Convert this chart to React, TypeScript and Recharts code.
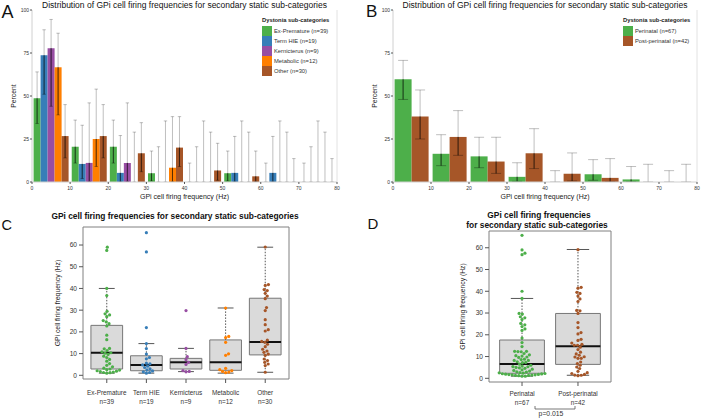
import React from 'react';
import {
  BarChart, Bar, XAxis, YAxis, Legend, ReferenceLine,
  ScatterChart, Scatter, ReferenceArea,
} from 'recharts';

const FONT = '"Liberation Sans", Arial, Helvetica, sans-serif';

// ---------- Panels A & B : histogram data ----------
const BIN_MIDS = [5, 15, 25, 35, 45, 55, 65, 75];
const FREQ_TICKS = [0, 10, 20, 30, 40, 50, 60, 70, 80];
const PCT_TICKS = [0, 25, 50, 75, 100];

const SUB_NAMES = ['Ex-Premature', 'Term HIE', 'Kernicterus', 'Metabolic', 'Other'];
const SUB_N = [39, 19, 9, 12, 30];
const SUB_COLORS = ['#4daf4a', '#377eb8', '#984ea3', '#ff7f00', '#a65628'];

const exPremPct = [48.7, 20.5, 20.5, 5.1, 0, 5.1, 0, 0];
const exPremLo = [34, 11, 11, 0.6, 0, 0.6, 0, 0];
const exPremHi = [64, 36, 36, 18, 11, 18, 11, 11];
const termHiePct = [73.7, 10.5, 5.3, 0, 0, 5.3, 5.3, 0];
const termHieLo = [51, 2, 0.1, 0, 0, 0.1, 0.1, 0];
const termHieHi = [88.5, 33, 27, 20.5, 20.5, 26.5, 26.5, 20.5];
const kernPct = [77.8, 11.1, 11.1, 0, 0, 0, 0, 0];
const kernLo = [44, 0.3, 0.3, 0, 0, 0, 0, 0];
const kernHi = [94.5, 46, 46, 35.5, 35.5, 35.5, 35.5, 35.5];
const metabPct = [66.7, 25, 0, 8.3, 0, 0, 0, 0];
const metabLo = [39, 9, 0, 0.2, 0, 0, 0, 0];
const metabHi = [86.5, 54, 29, 38, 29, 29, 29, 29];
const otherPct = [26.7, 26.7, 16.7, 20, 6.7, 3.3, 0, 0];
const otherLo = [14, 14, 6, 9, 1, 0.1, 0, 0];
const otherHi = [45, 45, 34.5, 38, 22.5, 18, 13.6, 13.6];

const GROUP_NAMES = ['Perinatal', 'Post-perinatal'];
const GROUP_N = [67, 42];
const GROUP_COLORS = ['#4daf4a', '#a65628'];

const perinatalPct = [59.7, 16.4, 14.9, 3.0, 0, 4.5, 1.5, 0];
const perinatalLo = [48, 9.5, 8.3, 0.4, 0, 1.0, 0.1, 0];
const perinatalHi = [70.7, 27.5, 26, 11.2, 6.6, 13, 9, 6.6];
const postPct = [38.1, 26.2, 11.9, 16.7, 4.8, 2.4, 0, 0];
const postLo = [25, 15.5, 5, 7.8, 0.6, 0.1, 0, 0];
const postHi = [53.5, 41.5, 26, 31, 16.9, 13.6, 10.3, 10.3];

// ---------- Panels C & D : individual cell firing rates (Hz) ----------
const exPremHz = [59, 57.5, 40, 36.7, 29.5, 28.3, 27.8, 27, 25.2, 24.6, 23.8, 22.7,
  18.5, 16.4, 12.4, 12.2, 11.4, 10.8, 10.4, 10.2,
  9.6, 8.8, 8.2, 7.3, 6.5, 5.4, 4.6, 3.9, 3.3, 2.9, 2.6, 2.4, 2.1, 1.9, 1.7, 1.5, 1.3, 1.2, 1.0];
const termHieHz = [65.7, 56.8, 22, 14.6, 12.3, 9.8, 8.2, 7.6, 5.6, 5.3, 4.8, 4.2, 3.6, 3.0, 2.5, 2.0, 1.6, 1.3, 1.0];
const kernHz = [29.8, 12.4, 8.6, 7.2, 6.0, 5.0, 2.2, 1.8, 1.6];
const metabHz = [31, 17.9, 17.4, 15.2, 9.9, 9.2, 3.2, 2.6, 2.2, 1.8, 1.5, 1.2];
const otherHz = [59.1, 41.8, 41.4, 39.5, 39.0, 37.8, 36.5, 35.3, 31.2, 29.8, 25.6, 23.3, 21.0, 20.4,
  16.2, 15.6, 15.2, 14.3, 13.2, 12.0, 11.2, 10.6, 9.8, 9.2, 7.5, 6.8, 6.0, 5.2, 4.5, 1.4];

// box statistics
const cQ1 = [2.9, 2.1, 2.9, 2.3, 9.4];
const cMed = [10.4, 4.8, 6.0, 6.0, 15.3];
const cQ3 = [23.0, 9.0, 7.8, 16.3, 35.5];
const cWLo = [1.0, 1.0, 1.7, 1.0, 1.4];
const cWHi = [40.0, 14.6, 12.4, 31.0, 59.0];

const dQ1 = [2.3, 6.4];
const dMed = [6.6, 14.7];
const dQ3 = [17.6, 29.8];
const dWLo = [1.0, 1.4];
const dWHi = [36.7, 59.2];

const HZ_TICKS = [0, 10, 20, 30, 40, 50, 60];
const P_VALUE = 'p=0.015';

// ---------- layout constants ----------
const C_X_DOMAIN: [number, number] = [-0.6, 4.6];
const D_X_DOMAIN: [number, number] = [-0.59, 1.59];
const C_Y_DOMAIN: [number, number] = [-1.7, 68.3];
const D_Y_DOMAIN: [number, number] = [-1.7, 67.7];
const C_PX_X = 206 / 5.2;
const C_PX_Y = 152 / 70;
const D_PX_X = 122 / 2.18;
const D_PX_Y = 151 / 69.4;
const DOT_GAP = 3.3;
const DOT_R = 1.6;
const BOX_HALF = 0.4;
const CAP_HALF = 0.2;

// ---------- helpers ----------
function swarmOffsets(values: number[], pxX: number, pxY: number, diam: number): number[] {
  const order = values.map((_, i) => i).sort((a, b) => values[a] - values[b]);
  const placed: { x: number; y: number }[] = [];
  const res = new Array(values.length).fill(0);
  for (const i of order) {
    const y = values[i] * pxY;
    const near = placed.filter((p) => Math.abs(p.y - y) < diam);
    const cands = [0];
    for (const p of near) {
      const dx = Math.sqrt(diam * diam - (p.y - y) * (p.y - y));
      cands.push(p.x + dx, p.x - dx);
    }
    cands.sort((a, b) => Math.abs(a) - Math.abs(b) || b - a);
    let chosen = 0;
    for (const c of cands) {
      if (near.every((p) => (p.x - c) ** 2 + (p.y - y) ** 2 >= diam * diam - 1e-6)) {
        chosen = c;
        break;
      }
    }
    placed.push({ x: chosen, y });
    res[i] = chosen / pxX;
  }
  return res;
}

function buildHistData(series: { pct: number[]; lo: number[]; hi: number[] }[]) {
  return BIN_MIDS.map((mid, b) => {
    const row: any = { mid };
    series.forEach((s, k) => {
      row[`v${k}`] = s.pct[b];
      row[`r${k}`] = [s.lo[b], s.hi[b]];
    });
    return row;
  });
}

const dataA = buildHistData([
  { pct: exPremPct, lo: exPremLo, hi: exPremHi },
  { pct: termHiePct, lo: termHieLo, hi: termHieHi },
  { pct: kernPct, lo: kernLo, hi: kernHi },
  { pct: metabPct, lo: metabLo, hi: metabHi },
  { pct: otherPct, lo: otherLo, hi: otherHi },
]);
const dataB = buildHistData([
  { pct: perinatalPct, lo: perinatalLo, hi: perinatalHi },
  { pct: postPct, lo: postLo, hi: postHi },
]);

function swarmData(groups: number[][], pxX: number, pxY: number) {
  return groups.map((vals, i) => {
    const offs = swarmOffsets(vals, pxX, pxY, DOT_GAP);
    return vals.map((v, j) => ({ x: i + offs[j], y: v }));
  });
}
const cGroups = [exPremHz, termHieHz, kernHz, metabHz, otherHz];
const dGroups = [[...exPremHz, ...termHieHz, ...kernHz], [...metabHz, ...otherHz]];
const scatterC = swarmData(cGroups, C_PX_X, C_PX_Y);
const scatterD = swarmData(dGroups, D_PX_X, D_PX_Y);

// error-bar glyph drawn on a range bar [lo, hi]
const makeErrShape = (k: number, capHalf: number) => (p: any) => {
  const { x, y, width, height, payload } = p;
  if (x == null || y == null) return <g />;
  const top = Math.min(y, y + height);
  const bottom = Math.max(y, y + height);
  const [lo, hi] = payload[`r${k}`];
  const v = payload[`v${k}`];
  const cx = x + width / 2;
  const yV = hi === lo ? bottom : bottom - ((v - lo) / (hi - lo)) * (bottom - top);
  return (
    <g>
      <line x1={cx} x2={cx} y1={top} y2={bottom} stroke="#000" strokeOpacity={0.25} />
      <line x1={cx - capHalf} x2={cx + capHalf} y1={top} y2={top} stroke="#000" strokeOpacity={0.25} />
      <line x1={cx - capHalf} x2={cx + capHalf} y1={bottom} y2={bottom} stroke="#000" strokeOpacity={0.3} />
      {yV < bottom - 0.2 && <line x1={cx} x2={cx} y1={yV} y2={bottom} stroke="#000" strokeOpacity={0.55} />}
    </g>
  );
};

function LegendBox({ title, names, colors }: { title: string; names: string[]; colors: string[] }) {
  return (
    <div style={{ fontFamily: FONT, color: '#333' }}>
      <div style={{ fontWeight: 'bold', fontSize: 5.8, lineHeight: '9.7px', whiteSpace: 'nowrap', color: '#222' }}>{title}</div>
      {names.map((n, i) => (
        <div key={n} style={{ display: 'flex', alignItems: 'center', height: 10 }}>
          <span style={{ width: 10, height: 10, background: colors[i], display: 'inline-block', flex: 'none' }} />
          <span style={{ fontSize: 5.8, marginLeft: 2, whiteSpace: 'nowrap' }}>{n}</span>
        </div>
      ))}
    </div>
  );
}

const makeCatTick = (names: string[], ns: number[], dy1: number, dy2: number, fs: number) => (props: any) => {
  const { x, y, payload } = props;
  const i = Math.round(payload.value);
  return (
    <g>
      <text x={x} y={y} dy={dy1} textAnchor="middle" fontSize={fs} fill="#333">{names[i]}</text>
      <text x={x} y={y} dy={dy2} textAnchor="middle" fontSize={fs} fill="#333">{`n=${ns[i]}`}</text>
    </g>
  );
};

function Histogram({ data, names, colors, legendLeft, width, marginLeft, marginRight, yAxisWidth, capHalf, labelOffset }: any) {
  return (
    <BarChart
      width={width}
      height={205}
      data={data}
      margin={{ top: 10, right: marginRight, bottom: 3, left: marginLeft }}
      barCategoryGap={1.6}
      barGap={0}
    >
      <XAxis
        xAxisId="num"
        type="number"
        dataKey="mid"
        domain={[0, 80]}
        ticks={FREQ_TICKS}
        allowDataOverflow
        height={20}
        tick={{ fontSize: 5, fill: '#333' }}
        tickSize={2}
        tickMargin={2}
        axisLine={{ stroke: '#d0d0d0' }}
        tickLine={{ stroke: '#555' }}
        label={{ value: 'GPi cell firing frequency (Hz)', position: 'insideBottom', offset: 3.5, style: { fontSize: 7, fill: '#222' } }}
      />
      <XAxis xAxisId="err" orientation="top" type="number" dataKey="mid" domain={[0, 80]} ticks={FREQ_TICKS} allowDataOverflow hide />
      <YAxis
        domain={[0, 100]}
        ticks={PCT_TICKS}
        allowDataOverflow
        width={yAxisWidth}
        tick={{ fontSize: 5, fill: '#333' }}
        tickSize={2}
        tickMargin={1}
        axisLine={{ stroke: '#d0d0d0' }}
        tickLine={{ stroke: '#555' }}
        label={{ value: 'Percent', angle: -90, position: 'insideLeft', offset: labelOffset, style: { textAnchor: 'middle', fontSize: 6.8, fill: '#222' } }}
      />
      <ReferenceLine xAxisId="num" x={80} stroke="#e2e2e2" />
      {names.map((n: string, k: number) => (
        <Bar key={n} xAxisId="num" dataKey={`v${k}`} name={n} fill={colors[k]} isAnimationActive={false} />
      ))}
      {names.map((n: string, k: number) => (
        <Bar
          key={`err-${n}`}
          xAxisId="err"
          dataKey={`r${k}`}
          legendType="none"
          fill="none"
          isAnimationActive={false}
          shape={makeErrShape(k, capHalf)}
        />
      ))}
      <Legend
        layout="vertical"
        align="center"
        verticalAlign="middle"
        wrapperStyle={{ left: legendLeft, top: 16, width: 80, height: 'auto' }}
        content={() => <LegendBox title="Dystonia sub-categories" names={names} colors={colors} />}
      />
    </BarChart>
  );
}

function BoxSwarm({ width, margin, yAxisWidth, xDomain, yDomain, names, ns, colors, points, q1, med, q3, wLo, wHi, labelOffset, dy1, dy2 }: any) {
  const idx = names.map((_: string, i: number) => i);
  return (
    <ScatterChart width={width} height={213} margin={margin}>
      <XAxis
        type="number"
        dataKey="x"
        domain={xDomain}
        ticks={idx}
        interval={0}
        allowDataOverflow
        height={30}
        axisLine={false}
        tickLine={{ stroke: '#555' }}
        tickSize={4}
        tickMargin={2}
        tick={makeCatTick(names, ns, dy1, dy2, 6.4)}
      />
      <YAxis
        type="number"
        dataKey="y"
        domain={yDomain}
        ticks={HZ_TICKS}
        allowDataOverflow
        width={yAxisWidth}
        axisLine={false}
        tickLine={{ stroke: '#555' }}
        tickSize={4}
        tickMargin={2}
        tick={{ fontSize: 6.6, fill: '#333' }}
        label={{ value: 'GPi cell firing frequency (Hz)', angle: -90, position: 'insideLeft', offset: labelOffset, style: { textAnchor: 'middle', fontSize: 6.8, fill: '#222' } }}
      />
      <ReferenceArea x1={xDomain[0]} x2={xDomain[1]} y1={yDomain[0]} y2={yDomain[1]} fill="none" stroke="#808080" strokeWidth={1} ifOverflow="visible" />
      {idx.map((i: number) => (
        <React.Fragment key={`b${i}`}>
          <ReferenceLine segment={[{ x: i, y: q3[i] }, { x: i, y: wHi[i] }]} stroke="#555" strokeDasharray="1.5 1.5" />
          <ReferenceLine segment={[{ x: i, y: wLo[i] }, { x: i, y: q1[i] }]} stroke="#555" strokeDasharray="1.5 1.5" />
          <ReferenceLine segment={[{ x: i - CAP_HALF, y: wHi[i] }, { x: i + CAP_HALF, y: wHi[i] }]} stroke="#555" />
          <ReferenceLine segment={[{ x: i - CAP_HALF, y: wLo[i] }, { x: i + CAP_HALF, y: wLo[i] }]} stroke="#555" />
          <ReferenceArea x1={i - BOX_HALF} x2={i + BOX_HALF} y1={q1[i]} y2={q3[i]} fill="#dadada" fillOpacity={1} stroke="#777" strokeWidth={1} />
          <ReferenceLine segment={[{ x: i - BOX_HALF, y: med[i] }, { x: i + BOX_HALF, y: med[i] }]} stroke="#111" strokeWidth={2} />
        </React.Fragment>
      ))}
      {idx.map((i: number) => (
        <Scatter
          key={`s${i}`}
          data={points[i]}
          fill={colors[i]}
          isAnimationActive={false}
          shape={(p: any) => <circle cx={p.cx} cy={p.cy} r={DOT_R} fill={colors[i]} />}
        />
      ))}
    </ScatterChart>
  );
}

export default function App() {
  const subLegend = SUB_NAMES.map((n, i) => `${n} (n=${SUB_N[i]})`);
  const grpLegend = GROUP_NAMES.map((n, i) => `${n} (n=${GROUP_N[i]})`);
  const histTitle = 'Distribution of GPi cell firing frequencies for secondary static sub-categories';
  return (
    <div style={{ position: 'absolute', left: 0, top: 0, width: 702, height: 418, background: '#fff', fontFamily: FONT, overflow: 'hidden' }}>
      <div style={{ position: 'absolute', left: 0, top: 0 }}>
        <Histogram data={dataA} names={subLegend} colors={SUB_COLORS} legendLeft={262} width={345} marginLeft={10} marginRight={8} yAxisWidth={22} capHalf={1.7} labelOffset={4} />
      </div>
      <div style={{ position: 'absolute', left: 350, top: 0 }}>
        <Histogram data={dataB} names={grpLegend} colors={GROUP_COLORS} legendLeft={273} width={352} marginLeft={20} marginRight={5} yAxisWidth={23} capHalf={5} labelOffset={5} />
      </div>
      <div style={{ position: 'absolute', left: 0, top: 205 }}>
        <BoxSwarm
          width={300}
          margin={{ top: 22, right: 11, bottom: 9, left: 40 }}
          yAxisWidth={43}
          xDomain={C_X_DOMAIN}
          yDomain={C_Y_DOMAIN}
          names={SUB_NAMES}
          ns={SUB_N}
          colors={SUB_COLORS}
          points={scatterC}
          q1={cQ1} med={cMed} q3={cQ3} wLo={cWLo} wHi={cWHi}
          labelOffset={18}
          dy1={9.5}
          dy2={18.5}
        />
      </div>
      <div style={{ position: 'absolute', left: 440, top: 205 }}>
        <BoxSwarm
          width={180}
          margin={{ top: 26, right: 9, bottom: 6, left: 15 }}
          yAxisWidth={34}
          xDomain={D_X_DOMAIN}
          yDomain={D_Y_DOMAIN}
          names={GROUP_NAMES}
          ns={GROUP_N}
          colors={GROUP_COLORS}
          points={scatterD}
          q1={dQ1} med={dMed} q3={dQ3} wLo={dWLo} wHi={dWHi}
          labelOffset={8}
          dy1={8}
          dy2={17}
        />
      </div>
      <svg width={702} height={418} style={{ position: 'absolute', left: 0, top: 0, pointerEvents: 'none' }}>
        <text x={1.5} y={18.3} fontSize={18} fill="#111">A</text>
        <text x={366} y={17} fontSize={17} fill="#111">B</text>
        <text x={1.5} y={230} fontSize={14.5} fill="#111">C</text>
        <text x={367.5} y={229.3} fontSize={15} fill="#111">D</text>
        <text x={184.5} y={7.5} fontSize={8.5} textAnchor="middle" fill="#111">{histTitle}</text>
        <text x={545} y={7.5} fontSize={8.5} textAnchor="middle" fill="#111">{histTitle}</text>
        <text x={175} y={218.5} fontSize={8.4} fontWeight="bold" textAnchor="middle" fill="#111">GPi cell firing frequencies for secondary static sub-categories</text>
        <text x={539} y={218} fontSize={8.4} fontWeight="bold" textAnchor="middle" fill="#111">GPi cell firing frequencies</text>
        <text x={537} y={227.5} fontSize={8.4} fontWeight="bold" textAnchor="middle" fill="#111">for secondary static sub-categories</text>
        <path d="M535 406 L535 409 L575 409 L575 406" fill="none" stroke="#555" strokeWidth={0.8} />
        <text x={551} y={415.5} fontSize={6.8} textAnchor="middle" fill="#333">{P_VALUE}</text>
      </svg>
    </div>
  );
}
